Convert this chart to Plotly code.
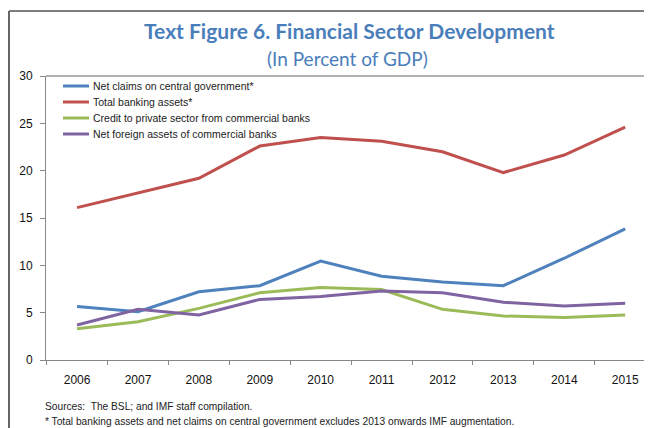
import plotly.graph_objects as go

years = ['2006', '2007', '2008', '2009', '2010', '2011', '2012', '2013', '2014', '2015']

net_claims_gov = [5.65, 5.1, 7.2, 7.85, 10.45, 8.85, 8.25, 7.85, 10.75, 13.85]
total_banking = [16.1, 17.65, 19.2, 22.6, 23.5, 23.1, 22.0, 19.8, 21.65, 24.6]
credit_private = [3.3, 4.05, 5.45, 7.1, 7.65, 7.45, 5.35, 4.65, 4.5, 4.75]
net_foreign = [3.7, 5.35, 4.75, 6.4, 6.7, 7.3, 7.1, 6.1, 5.7, 6.0]

series = [
    ('Net claims on central government*', net_claims_gov, '#4F81BD'),
    ('Total banking assets*', total_banking, '#C0504D'),
    ('Credit to private sector from commercial banks', credit_private, '#9BBB59'),
    ('Net foreign assets of commercial banks', net_foreign, '#8064A2'),
]

small_font = 'Liberation Sans Narrow, Arial Narrow, Liberation Sans, Arial'
title_font = 'Lato, Calibri, Open Sans, sans-serif'

fig = go.Figure()
for name, vals, color in series:
    fig.add_trace(go.Scatter(
        x=years, y=vals, name=name, mode='lines',
        line=dict(color=color, width=3),
    ))

# page has an 8px body margin, so work in reference pixels and shift
OFF = 8
W, H = 652 - OFF, 428 - OFF
L, T = 46 - OFF, 76 - OFF
B = H - (360 - OFF)
pw, ph = W - L, H - T - B

def px(x):
    return (x - OFF - L) / pw

def py(y):
    return (H - B - (y - OFF)) / ph

shapes = [
    dict(type='line', xref='paper', yref='paper', x0=0, x1=1, y0=1, y1=1,
         line=dict(color='#999', width=1.5)),
    dict(type='line', xref='paper', yref='paper', x0=px(9), x1=px(9), y0=py(11), y1=py(430),
         line=dict(color='#333', width=1.5)),
    dict(type='line', xref='paper', yref='paper', x0=px(9), x1=1.01, y0=py(11), y1=py(11),
         line=dict(color='#555', width=1.5)),
]
annotations = [
    dict(text='<b>Text Figure 6. Financial Sector Development</b>', xref='paper', yref='paper',
         x=px(349), y=py(30), xanchor='center', yanchor='middle', showarrow=False,
         font=dict(family=title_font, size=21, color='#4A7EBB')),
    dict(text='(In Percent of GDP)', xref='paper', yref='paper',
         x=px(347), y=py(59), xanchor='center', yanchor='middle', showarrow=False,
         font=dict(family=title_font, size=19, color='#4A7EBB')),
    dict(text='Sources:  The BSL; and IMF staff compilation.', xref='paper', yref='paper',
         x=px(43), y=py(406), xanchor='left', yanchor='middle', showarrow=False,
         font=dict(family=small_font, size=10.2, color='#222')),
    dict(text='* Total banking assets and net claims on central government excludes 2013 onwards IMF augmentation.',
         xref='paper', yref='paper',
         x=px(43), y=py(421), xanchor='left', yanchor='middle', showarrow=False,
         font=dict(family=small_font, size=10.2, color='#222')),
]

# legend drawn by hand for tighter row spacing, like the original
for i, (name, vals, color) in enumerate(series):
    ry = 86 + i * 16
    shapes.append(dict(type='line', xref='paper', yref='paper',
                       x0=px(63), x1=px(89), y0=py(ry), y1=py(ry),
                       line=dict(color=color, width=3)))
    annotations.append(dict(text=name, xref='paper', yref='paper',
                            x=px(91), y=py(ry), xanchor='left', yanchor='middle',
                            showarrow=False,
                            font=dict(family=small_font, size=10.5, color='#222')))

fig.update_layout(
    width=W, height=H,
    margin=dict(l=L, r=0, t=T, b=B),
    plot_bgcolor='white', paper_bgcolor='white',
    showlegend=False,
    xaxis=dict(
        type='category', range=[-0.51, 9.44],
        showline=True, linecolor='#888', linewidth=1,
        ticks='outside', tickson='boundaries', ticklen=4, tickcolor='#888',
        showgrid=False, zeroline=False, ticklabelstandoff=9,
        tickfont=dict(family=small_font, size=12, color='#111'),
    ),
    yaxis=dict(
        range=[0, 30], dtick=5,
        showline=True, linecolor='#888', linewidth=1,
        ticks='outside', ticklen=5, tickcolor='#888',
        showgrid=False, zeroline=False, ticklabelstandoff=5,
        tickfont=dict(family=small_font, size=12, color='#111'),
    ),
    shapes=shapes,
    annotations=annotations,
)

fig.write_html('out.html')
